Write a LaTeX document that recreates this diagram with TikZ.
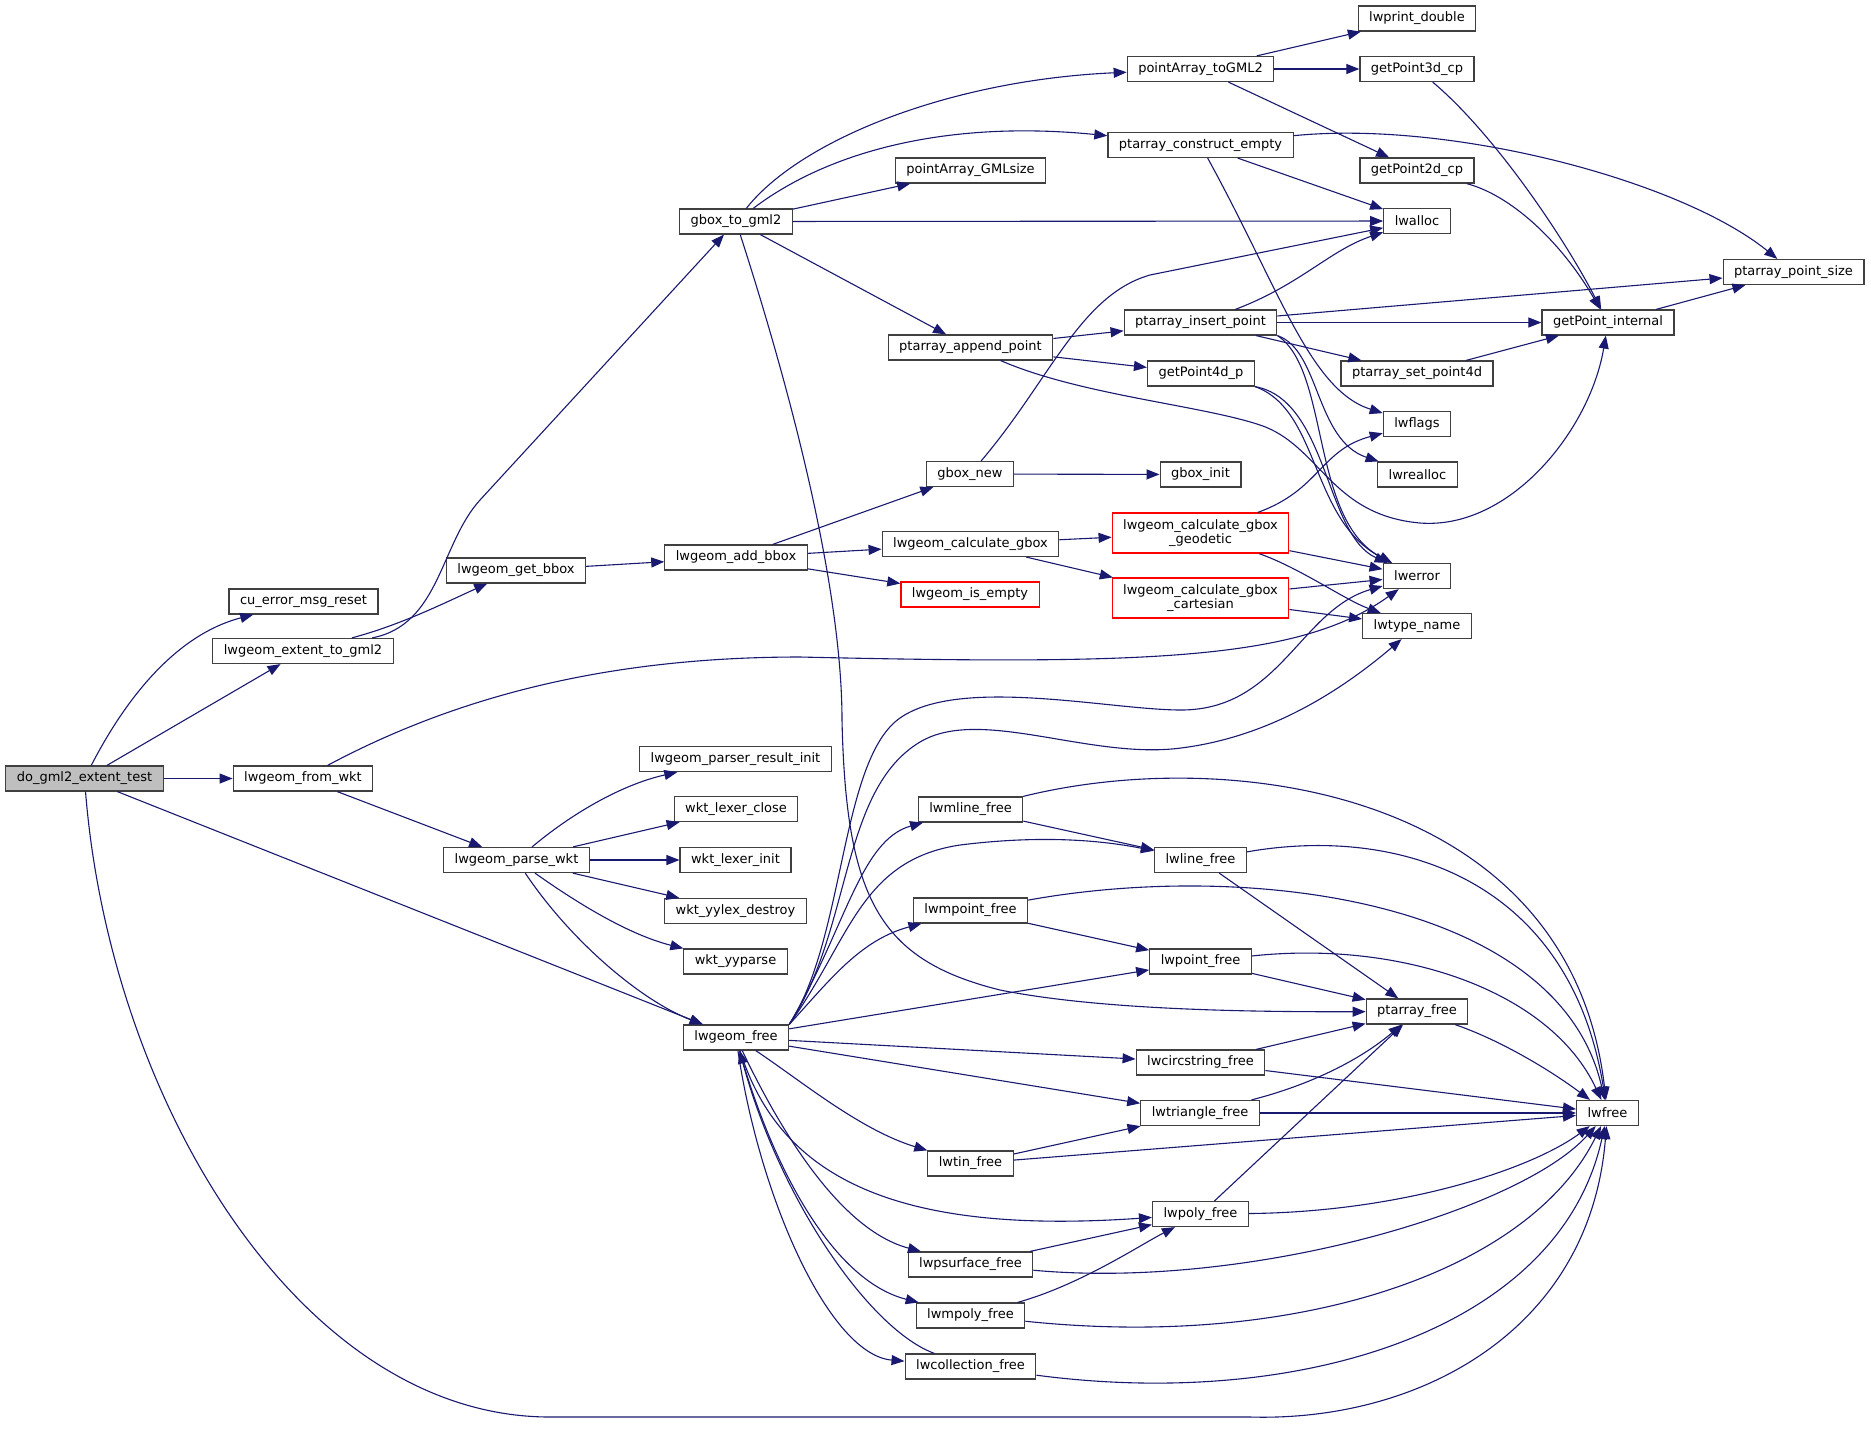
\documentclass[tikz,border=0pt]{standalone}
\usepackage{fontspec}
\setmainfont{DejaVu Sans}
\usetikzlibrary{arrows.meta}
\definecolor{edgeblue}{HTML}{191970}
\definecolor{rootgray}{HTML}{BFBFBF}
\begin{document}
\begin{tikzpicture}[x=1pt,y=-1pt,
    fn/.style={draw=black!75, line width=1.2pt, fill=white, font=\fontsize{13}{14.5}\selectfont,
      inner xsep=11pt, inner ysep=0pt, minimum height=25pt},
    errfn/.style={fn, draw=red},
    twoline/.style={align=center, minimum height=40pt},
    root/.style={fn, fill=rootgray},
    link/.style={draw=edgeblue, line width=1.1pt, -{Triangle[length=13pt,width=10pt]}}]
    \path[use as bounding box, fill=white] (0,0) rectangle (1871,1436);

    \node[root] (do) at (84.5,778.5) {do\_gml2\_extent\_test};
    \node[fn] (cuerr) at (303.5,601.5) {cu\_error\_msg\_reset};
    \node[fn] (extent) at (303,651) {lwgeom\_extent\_to\_gml2};
    \node[fn] (fromwkt) at (303,778.5) {lwgeom\_from\_wkt};
    \node[fn] (getbbox) at (516,570.5) {lwgeom\_get\_bbox};
    \node[fn] (parsewkt) at (516.5,860) {lwgeom\_parse\_wkt};

    \node[fn] (gboxgml) at (736,221.5) {gbox\_to\_gml2};
    \node[fn] (addbbox) at (736,557.5) {lwgeom\_add\_bbox};
    \node[fn] (resinit) at (735.5,759) {lwgeom\_parser\_result\_init};
    \node[fn] (lexclose) at (736,809) {wkt\_lexer\_close};
    \node[fn] (lexinit) at (735.5,860) {wkt\_lexer\_init};
    \node[fn] (lexdestroy) at (735.5,911) {wkt\_yylex\_destroy};
    \node[fn] (yyparse) at (735.5,961.5) {wkt\_yyparse};
    \node[fn] (geomfree) at (736,1037.5) {lwgeom\_free};

    \node[fn] (gmlsize) at (970.5,170.5) {pointArray\_GMLsize};
    \node[fn] (append) at (970.5,347.5) {ptarray\_append\_point};
    \node[fn] (gboxnew) at (970,474) {gbox\_new};
    \node[fn] (calcgbox) at (970.5,544) {lwgeom\_calculate\_gbox};
    \node[errfn] (isempty) at (970,594.5) {lwgeom\_is\_empty};
    \node[fn] (mlinefree) at (970.5,809.5) {lwmline\_free};
    \node[fn] (mpointfree) at (970.5,910.5) {lwmpoint\_free};
    \node[fn] (tinfree) at (970.5,1163.5) {lwtin\_free};
    \node[fn] (psurffree) at (970.5,1264.5) {lwpsurface\_free};
    \node[fn] (mpolyfree) at (970.5,1315.5) {lwmpoly\_free};
    \node[fn] (collfree) at (970.5,1366.5) {lwcollection\_free};

    \node[fn] (togml2) at (1200.5,69) {pointArray\_toGML2};
    \node[fn] (construct) at (1200.5,145) {ptarray\_construct\_empty};
    \node[fn] (insert) at (1200.5,322.5) {ptarray\_insert\_point};
    \node[fn] (gp4d) at (1201,373.5) {getPoint4d\_p};
    \node[fn] (gboxinit) at (1200.5,474.5) {gbox\_init};
    \node[errfn, twoline] (geodetic) at (1200.5,533) {lwgeom\_calculate\_gbox\\\_geodetic};
    \node[errfn, twoline] (cartesian) at (1200.5,598) {lwgeom\_calculate\_gbox\\\_cartesian};
    \node[fn] (linefree) at (1200.5,860) {lwline\_free};
    \node[fn] (pointfree) at (1200.5,961.5) {lwpoint\_free};
    \node[fn] (circfree) at (1200.5,1062.5) {lwcircstring\_free};
    \node[fn] (trifree) at (1200,1113) {lwtriangle\_free};
    \node[fn] (polyfree) at (1200.5,1214) {lwpoly\_free};

    \node[fn] (lwprint) at (1417,18.5) {lwprint\_double};
    \node[fn] (gp3d) at (1417,69) {getPoint3d\_cp};
    \node[fn] (gp2d) at (1417,170.5) {getPoint2d\_cp};
    \node[fn] (lwalloc) at (1417,221) {lwalloc};
    \node[fn] (setp4d) at (1417,373.5) {ptarray\_set\_point4d};
    \node[fn] (lwflags) at (1417,424) {lwflags};
    \node[fn] (lwrealloc) at (1417.5,474.5) {lwrealloc};
    \node[fn] (lwerror) at (1417,576) {lwerror};
    \node[fn] (typename) at (1417,626) {lwtype\_name};
    \node[fn] (ptfree) at (1417,1011.5) {ptarray\_free};

    \node[fn] (gpint) at (1608,322.5) {getPoint\_internal};
    \node[fn] (lwfree) at (1607.5,1113) {lwfree};
    \node[fn] (ptsize) at (1793.5,272) {ptarray\_point\_size};

    \draw[link] (do) .. controls (125,700) and (175,635) .. (cuerr);
    \draw[link] (do) -- (extent);
    \draw[link] (do) -- (fromwkt);
    \draw[link] (do) -- (geomfree);
    \draw[link] (do) .. controls (110,1100) and (300,1417) .. (550,1417) -- (1250,1417)
        .. controls (1420,1422) and (1590,1330) .. (lwfree);

    \draw[link] (extent) .. controls (440,625) and (440,544) .. (480,500) -- (gboxgml);
    \draw[link] (extent) .. controls (400,625) and (440,605) .. (getbbox);
    \draw[link] (getbbox) -- (addbbox);
    \draw[link] (addbbox) -- (gboxnew);
    \draw[link] (addbbox) -- (calcgbox);
    \draw[link] (addbbox) -- (isempty);
    \draw[link] (gboxnew) .. controls (1050,380) and (1080,295) .. (1150,275) -- (lwalloc);
    \draw[link] (gboxnew) -- (gboxinit);
    \draw[link] (calcgbox) -- (geodetic);
    \draw[link] (calcgbox) -- (cartesian);
    \draw[link] (geodetic) .. controls (1320,490) and (1320,450) .. (lwflags);
    \draw[link] (geodetic) -- (lwerror);
    \draw[link] (geodetic) .. controls (1300,568) and (1345,600) .. (typename);
    \draw[link] (cartesian) -- (lwerror);
    \draw[link] (cartesian) -- (typename);

    \draw[link] (gboxgml) .. controls (800,140) and (950,80) .. (togml2);
    \draw[link] (gboxgml) .. controls (830,150) and (950,120) .. (construct);
    \draw[link] (gboxgml) -- (gmlsize);
    \draw[link] (gboxgml) -- (lwalloc);
    \draw[link] (gboxgml) -- (append);
    \draw[link] (gboxgml) .. controls (800,420) and (842,600) .. (842,720)
        .. controls (846,900) and (880,960) .. (1000,990)
        .. controls (1100,1010) and (1250,1012) .. (ptfree);

    \draw[link] (togml2) -- (lwprint);
    \draw[link] (togml2) -- (gp3d);
    \draw[link] (togml2) -- (gp2d);
    \draw[link] (construct) .. controls (1450,120) and (1680,180) .. (ptsize);
    \draw[link] (construct) -- (lwalloc);
    \draw[link] (construct) .. controls (1280,290) and (1310,390) .. (lwflags);
    \draw[link] (gp3d) .. controls (1490,130) and (1560,230) .. (gpint);
    \draw[link] (gp2d) .. controls (1510,195) and (1560,240) .. (gpint);

    \draw[link] (append) -- (insert);
    \draw[link] (append) -- (gp4d);
    \draw[link] (append) .. controls (1080,395) and (1200,405) .. (1260,425)
        .. controls (1320,445) and (1330,515) .. (1420,523)
        .. controls (1510,530) and (1590,430) .. (gpint);
    \draw[link] (insert) .. controls (1300,285) and (1330,250) .. (lwalloc);
    \draw[link] (insert) -- (ptsize);
    \draw[link] (insert) -- (gpint);
    \draw[link] (insert) -- (setp4d);
    \draw[link] (insert.south east) .. controls (1320,350) and (1315,440) .. (lwrealloc);
    \draw[link] (insert.south east) .. controls (1330,370) and (1310,520) .. (lwerror);
    \draw[link] (gp4d.south east) .. controls (1320,410) and (1310,520) .. (lwerror);
    \draw[link] (gp4d.south east) .. controls (1328,400) and (1325,535) .. (lwerror);
    \draw[link] (setp4d) -- (gpint);
    \draw[link] (gpint) -- (ptsize);

    \draw[link] (fromwkt) .. controls (450,700) and (600,657) .. (800,657)
        .. controls (1150,665) and (1300,660) .. (lwerror);
    \draw[link] (fromwkt) -- (parsewkt);
    \draw[link] (parsewkt) .. controls (570,815) and (620,785) .. (resinit);
    \draw[link] (parsewkt) -- (lexclose);
    \draw[link] (parsewkt) -- (lexinit);
    \draw[link] (parsewkt) -- (lexdestroy);
    \draw[link] (parsewkt) .. controls (580,905) and (630,935) .. (yyparse);
    \draw[link] (parsewkt) .. controls (570,940) and (640,1000) .. (geomfree);

    \draw[link] (geomfree.north east) .. controls (845,940) and (840,760) .. (900,718)
        .. controls (960,676) and (1110,710) .. (1181,710)
        .. controls (1280,710) and (1300,610) .. (lwerror);
    \draw[link] (geomfree.north east) .. controls (852,930) and (840,790) .. (920,742)
        .. controls (980,706) and (1090,760) .. (1181,748)
        .. controls (1260,738) and (1330,700) .. (typename);
    \draw[link] (geomfree.north east) .. controls (845,930) and (860,840) .. (mlinefree);
    \draw[link] (geomfree.north east) .. controls (850,940) and (860,860) .. (960,845)
        .. controls (1040,835) and (1100,840) .. (linefree);
    \draw[link] (geomfree.north east) .. controls (830,980) and (860,940) .. (mpointfree);
    \draw[link] (geomfree) -- (pointfree);
    \draw[link] (geomfree) -- (circfree);
    \draw[link] (geomfree) -- (trifree);
    \draw[link] (geomfree) .. controls (800,1080) and (860,1130) .. (tinfree);
    \draw[link] (geomfree) .. controls (780,1180) and (900,1235) .. (polyfree);
    \draw[link] (geomfree) .. controls (780,1130) and (840,1230) .. (psurffree);
    \draw[link] (geomfree) .. controls (770,1160) and (830,1280) .. (mpolyfree);
    \draw[link] (geomfree) .. controls (760,1200) and (830,1355) .. (collfree);
    \draw[link] (collfree) .. controls (870,1330) and (780,1200) .. (geomfree);

    \draw[link] (mlinefree) -- (linefree);
    \draw[link] (mlinefree) .. controls (1230,745) and (1570,790) .. (lwfree);
    \draw[link] (linefree) -- (ptfree);
    \draw[link] (linefree) .. controls (1400,825) and (1570,880) .. (lwfree);
    \draw[link] (mpointfree) -- (pointfree);
    \draw[link] (mpointfree) .. controls (1250,860) and (1560,900) .. (lwfree);
    \draw[link] (pointfree) -- (ptfree);
    \draw[link] (pointfree) .. controls (1400,940) and (1550,990) .. (lwfree);
    \draw[link] (ptfree) .. controls (1500,1040) and (1550,1070) .. (lwfree);
    \draw[link] (circfree) -- (ptfree);
    \draw[link] (circfree) -- (lwfree);
    \draw[link] (trifree) .. controls (1310,1085) and (1360,1060) .. (ptfree);
    \draw[link] (trifree) -- (lwfree);
    \draw[link] (tinfree) -- (trifree);
    \draw[link] (tinfree) -- (lwfree);
    \draw[link] (polyfree) -- (ptfree);
    \draw[link] (polyfree) .. controls (1400,1212) and (1530,1170) .. (lwfree);
    \draw[link] (psurffree) -- (polyfree);
    \draw[link] (psurffree) .. controls (1250,1290) and (1520,1210) .. (lwfree);
    \draw[link] (mpolyfree) .. controls (1080,1285) and (1140,1245) .. (polyfree);
    \draw[link] (mpolyfree) .. controls (1300,1350) and (1530,1270) .. (lwfree);
    \draw[link] (collfree) .. controls (1300,1410) and (1560,1330) .. (lwfree);
\end{tikzpicture}
\end{document}
